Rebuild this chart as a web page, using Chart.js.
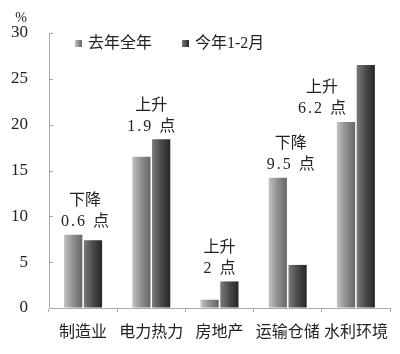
<!DOCTYPE html>
<html>
<head>
<meta charset="utf-8">
<script src="https://cdn.jsdelivr.net/npm/chart.js@4/dist/chart.umd.min.js"></script>
<style>
  body { margin: 0; background: #fff; }
  #wrap { width: 400px; height: 354px; }
</style>
</head>
<body>
<div id="wrap"><canvas id="c" width="400" height="354"></canvas></div>
<script>
// chart data
const categories = ["制造业", "电力热力", "房地产", "运输仓储", "水利环境"];
const seriesNames = ["去年全年", "今年1-2月"];
const lastYear = [8.0, 16.5, 0.9, 14.2, 20.3];
const thisYear = [7.4, 18.4, 2.9, 4.7, 26.5];
const yTicks = [0, 5, 10, 15, 20, 25, 30];
const noteTop = ["下降", "上升", "上升", "下降", "上升"];
const noteBottom = ["0.6 点", "1.9 点", "2 点", "9.5 点", "6.2 点"];

const CAT_PCT = 0.58, BAR_PCT = 0.92;
const cjk = '"Liberation Serif", "Noto Sans CJK SC", serif';

// horizontal gradient for each bar
function barFill(stops) {
    return function (ctx) {
        const chart = ctx.chart;
        const xs = chart.scales.x;
        if (!chart.chartArea || !xs || ctx.dataIndex === undefined) return stops[1];
        const cw = xs.width / categories.length;
        const slot = cw * CAT_PCT / 2;
        const cx = xs.getPixelForValue(ctx.dataIndex) + (ctx.datasetIndex - 0.5) * slot;
        const hw = slot * BAR_PCT / 2;
        const g = chart.ctx.createLinearGradient(cx - hw, 0, cx + hw, 0);
        g.addColorStop(0, stops[0]);
        g.addColorStop(0.5, stops[1]);
        g.addColorStop(1, stops[2]);
        return g;
    };
}
const fills = [["#c2c2c2", "#8e8e8e", "#666"], ["#7a7a7a", "#4a4a4a", "#262626"]];

// legend, % sign, y tick marks (inward) and the change notes
const extras = {
    id: "extras",
    afterDraw(chart) {
        const c = chart.ctx;
        const xs = chart.scales.x, ys = chart.scales.y;
        const area = chart.chartArea;
        c.save();
        c.strokeStyle = "#aaa";
        c.lineWidth = 1;
        yTicks.forEach(v => {
            const y = Math.round(ys.getPixelForValue(v)) + 0.5;
            c.beginPath();
            c.moveTo(area.left, y);
            c.lineTo(area.left + 4, y);
            c.stroke();
        });

        c.fillStyle = "#222";
        c.font = "14px " + cjk;
        c.textAlign = "center";
        c.textBaseline = "middle";
        c.fillText("%", 21, 18);

        // legend
        const lx = [75, 182];
        seriesNames.forEach((name, i) => {
            const g = c.createLinearGradient(lx[i], 0, lx[i] + 7, 0);
            g.addColorStop(0, fills[i][0]);
            g.addColorStop(1, fills[i][2]);
            c.fillStyle = g;
            c.fillRect(lx[i], 40, 7, 7);
            c.fillStyle = "#222";
            c.font = "16px " + cjk;
            c.textAlign = "left";
            c.fillText(name, lx[i] + 13, 44);
        });

        // notes above bars
        const dx = [2, 0, 0, 3, -34];
        c.textAlign = "center";
        c.font = "16px " + cjk;
        categories.forEach((cat, i) => {
            const v = dx[i] < 0 ? lastYear[i] : Math.max(lastYear[i], thisYear[i]);
            const x = xs.getPixelForValue(i) + dx[i];
            const y = ys.getPixelForValue(v) - 13;
            c.letterSpacing = "0px";
            c.fillText(noteTop[i], x, y - 21);
            c.letterSpacing = "2px";
            c.fillText(noteBottom[i], x + 1, y);
        });
        c.restore();
    }
};

new Chart(document.getElementById("c"), {
    type: "bar",
    data: {
        labels: categories,
        datasets: [
            { label: seriesNames[0], data: lastYear, backgroundColor: barFill(fills[0]) },
            { label: seriesNames[1], data: thisYear, backgroundColor: barFill(fills[1]) }
        ]
    },
    options: {
        responsive: false,
        animation: false,
        categoryPercentage: CAT_PCT,
        barPercentage: BAR_PCT,
        layout: { padding: { top: 33, right: 10, left: 0, bottom: 0 } },
        plugins: { legend: { display: false }, tooltip: { enabled: false } },
        scales: {
            x: {
                grid: { drawOnChartArea: false, tickLength: 4, tickColor: "#aaa" },
                border: { color: "#aaa" },
                ticks: {
                    color: "#222", padding: 11, minRotation: 0, maxRotation: 0, autoSkip: false,
                    font: { size: 16, family: cjk }
                },
                afterFit: s => { s.height = 46; }
            },
            y: {
                min: 0, max: 30,
                afterBuildTicks: s => { s.ticks = yTicks.map(v => ({ value: v })); },
                grid: { drawOnChartArea: false, drawTicks: false },
                border: { color: "#aaa" },
                ticks: { color: "#222", padding: 21, font: { size: 17, family: cjk } },
                afterFit: s => { s.width = 49; }
            }
        }
    },
    plugins: [extras]
});
</script>
</body>
</html>
